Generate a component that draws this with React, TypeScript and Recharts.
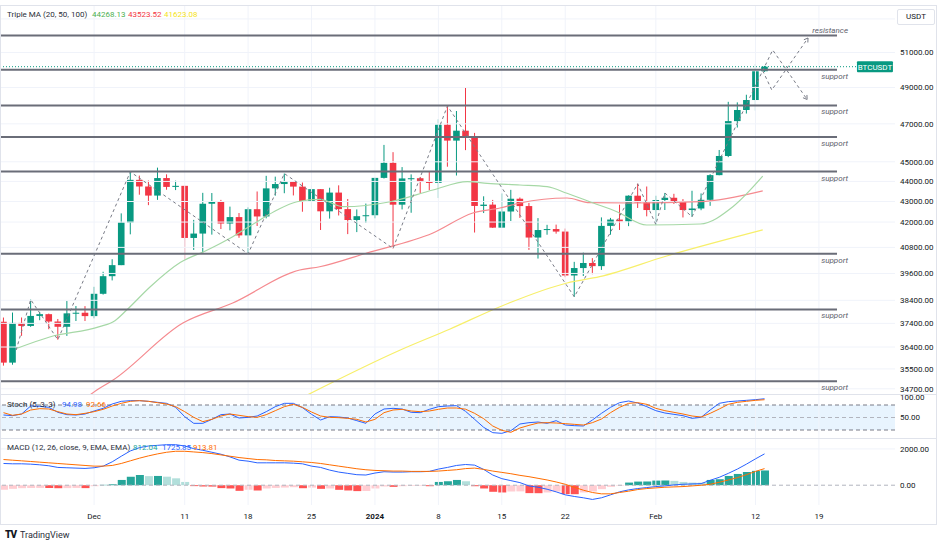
import React from 'react';
import {
  ComposedChart,
  Bar,
  Line,
  XAxis,
  YAxis,
  ReferenceLine,
  ReferenceArea,
  Cell,
} from 'recharts';

// BTCUSDT daily, Nov 21 2023 (day 0) .. Feb 13 2024 (day 84)
const opens = [
  37469, 35756, 37420, 37289, 37720, 37796, 37479, 37254, 37831, 37858,
  37712, 38688, 39476, 39978, 41980, 44080, 43746, 43293, 44170, 43725,
  43779, 41243, 41450, 42890, 43023, 41929, 42240, 41364, 42623, 42270,
  43652, 43869, 43997, 43740, 43016, 43613, 42520, 43442, 42627, 42099,
  42283, 42330, 44179, 44946, 42845, 44151, 44162, 43974, 43929, 46952,
  46106, 46633, 46339, 42782, 42847, 41732, 42511, 43137, 42776, 41262,
  41618, 41665, 41545, 39507, 39845, 40077, 39933, 41816, 42120, 42035,
  43288, 42952, 42582, 43075, 43185, 42992, 42583, 42658, 43084, 44318,
  45301, 47147, 47751, 48299, 49917,
];
const highs = [
  37650, 37866, 37653, 38431, 37892, 37820, 37588, 38368, 38150, 38145,
  38999, 39676, 40250, 42420, 44488, 44295, 44046, 44700, 44358, 44040,
  43783, 42104, 43429, 43420, 43080, 42749, 42437, 42712, 43497, 44283,
  44242, 44398, 43997, 43946, 43800, 43613, 43683, 43804, 43124, 42612,
  42899, 44184, 45879, 45500, 44729, 44357, 44227, 44480, 47248, 47972,
  47695, 48969, 46515, 43257, 43079, 43400, 43578, 43198, 42930, 42191,
  41867, 41877, 41689, 40129, 40555, 40300, 42225, 42200, 42842, 43305,
  43882, 43745, 43285, 43422, 43381, 43119, 43532, 43400, 44367, 45614,
  48200, 48170, 48592, 50334, 50220,
];
const lows = [
  35632, 35670, 36870, 37251, 37535, 37150, 36707, 36867, 37500, 37500,
  37615, 38652, 39285, 39978, 41414, 43335, 42821, 43081, 43584, 43566,
  40222, 40680, 40555, 41400, 41666, 41605, 41250, 40500, 41811, 42180,
  43287, 43410, 43300, 42500, 42700, 41620, 42167, 42318, 41424, 41520,
  41965, 42181, 44148, 40750, 42613, 42450, 43420, 43561, 43175, 44748,
  44300, 45606, 41500, 42436, 41720, 41718, 42050, 42200, 40683, 40280,
  41395, 41446, 39431, 38555, 39484, 39565, 39760, 41395, 41620, 41804,
  42683, 42276, 41884, 42584, 42880, 42222, 42258, 42574, 42788, 44311,
  45242, 46800, 47557, 47711, 49880,
];
const closes = [
  35756, 37420, 37289, 37720, 37796, 37479, 37254, 37831, 37858, 37712,
  38688, 39476, 39978, 41980, 44080, 43746, 43293, 44170, 43725, 43779,
  41243, 41450, 42890, 43023, 41929, 42240, 41364, 42623, 42270, 43652,
  43869, 43997, 43740, 43016, 43613, 42520, 43442, 42627, 42099, 42283,
  42330, 44179, 44946, 42845, 44151, 44162, 43974, 43929, 46952, 46106,
  46633, 46339, 42782, 42847, 41732, 42511, 43137, 42776, 41262, 41618,
  41665, 41545, 39507, 39845, 40077, 39933, 41816, 42120, 42035, 43288,
  42952, 42582, 43075, 43185, 42992, 42583, 42658, 43084, 44318, 45301,
  47147, 47751, 48299, 49917, 50180,
];

// Triple MA as [day, price]
const ma20 = [
  [1.5, 36349], [5.1, 36822], [10.6, 37259], [12.3, 37516], [13.6, 37977],
  [16.2, 39004], [19.5, 40099], [22.5, 40677], [25.3, 41301], [28.3, 42099],
  [30.2, 42584], [32.4, 42990], [34.9, 43109], [37.5, 42745], [42.7, 42990],
  [47.4, 43570], [51.2, 43987], [53.4, 43906], [57, 43821], [60, 43735],
  [62.2, 43406], [65.1, 42927], [67.7, 42501], [71, 41859], [76.9, 41906],
  [80.5, 42745], [83.8, 44268],
];
const ma50 = [
  [9.4, 34420], [10.3, 34653], [12.1, 35052], [19.8, 37417], [25.3, 38282],
  [32.7, 39757], [34.9, 39906], [40.1, 40538], [47.4, 41478], [51.8, 42438],
  [54.8, 42682], [57, 42927], [62.2, 43173], [64.7, 42941], [69.5, 42927],
  [76.9, 42990], [83.8, 43524],
];
const ma100 = [
  [33.5, 34450], [43.8, 36276], [49.3, 37160], [54.8, 38120], [62.2, 39170],
  [65.8, 39453], [73.2, 40399], [83.8, 41623],
];

// zigzag drawing and the two projected paths
const zigzag = [
  [1.4, 36276], [3, 38431], [6, 36707], [14, 44488], [27, 40500], [31, 44398],
  [43, 40750], [49, 47972], [63, 38555], [70, 43882], [72, 41884], [73, 43422],
  [76, 42258], [83.8, 49950],
];
const projUp = [[83.8, 49950], [84.9, 51146], [88.7, 48330]];
const projDown = [[83.8, 49950], [84.8, 48857], [88.8, 51854]];

const resistanceLevel = 52000;
const supportLevels = [50000, 48000, 46300, 44500, 40500, 38000, 35000];
const lastPrice = 50178;

const priceTicks = [51000, 49000, 47000, 45000, 44000, 43000, 42000, 40800, 39600, 38400, 37400, 36400, 35500, 34700];
const timeTicks = [10, 20, 27, 34, 41, 48, 55, 62, 72, 83, 90];
const timeLabels = ['Dec', '11', '18', '25', '2024', '8', '15', '22', 'Feb', '12', '19'];

// Stoch (5, 3, 3)
const stochK = [
  56, 54.4, 58.4, 77.6, 76.8, 74.4, 62.4, 56.8, 56, 58.4,
  65.6, 72, 82.4, 88.8, 90.4, 90.4, 88.8, 86.4, 84, 74.4,
  52, 36, 36, 45.6, 56.8, 58.4, 48.8, 50.4, 53.6, 64,
  76, 84, 84, 73.6, 57.6, 44, 52, 51.2, 48.8, 42.4,
  36, 58.4, 70.4, 72, 70.4, 62.4, 61.6, 69.6, 76, 77.6,
  78.4, 64.8, 45.6, 26.4, 13.6, 12, 18.4, 34.4, 37.6, 39.2,
  36, 42.4, 32, 30.4, 29.6, 44, 60, 74.4, 85.6, 89.6,
  84.8, 76, 66.4, 60.8, 57.6, 54.4, 48, 50.4, 68, 84,
  88, 89.6, 91.2, 92.8, 94.98,
];
const stochD = [
  61.6, 55.2, 58.4, 68, 71.2, 70.4, 64, 58.4, 56.8, 60,
  64, 69.6, 77.6, 84, 88.8, 90.4, 88.8, 85.6, 82.4, 76,
  64, 50.4, 40, 45.6, 53.6, 58.4, 55.2, 52, 50.4, 56.8,
  66.4, 76, 81.6, 74.4, 63.2, 53.6, 50.4, 49.6, 48, 45.6,
  39.2, 45.6, 61.6, 68, 69.6, 65.6, 64, 65.6, 69.6, 72.8,
  72.8, 70, 60, 47.2, 29.6, 19.2, 14.4, 24.8, 31.2, 36.8,
  37.6, 36.8, 35.2, 33.6, 32, 37.6, 46.4, 61.6, 74.4, 84,
  85.6, 81.6, 72, 66.4, 62.4, 58.4, 53.6, 51.2, 60, 70.4,
  81.6, 86.4, 88.8, 91.2, 92.66,
];

// MACD (12, 26, close, 9)
const macdLine = [
  1197, 1179, 1179, 1160, 1124, 1070, 979, 960, 942, 924,
  960, 1051, 1288, 1596, 1887, 2069, 2160, 2196, 2232, 2232,
  2160, 2014, 1923, 1815, 1706, 1560, 1379, 1324, 1233, 1233,
  1233, 1233, 1215, 1179, 1051, 979, 833, 724, 652, 579,
  561, 670, 742, 724, 724, 742, 742, 761, 888, 979,
  1088, 1140, 1106, 870, 561, 361, 252, 143, -39, -112,
  -221, -366, -530, -620, -693, -784, -693, -530, -366, -257,
  -184, -130, -75, -39, 16, 52, 70, 88, 270, 434,
  652, 888, 1160, 1451, 1726,
];
const signalLine = [
  1415, 1378, 1342, 1306, 1269, 1233, 1197, 1160, 1124, 1088,
  1051, 1051, 1088, 1197, 1342, 1488, 1615, 1724, 1815, 1869,
  1869, 1833, 1796, 1742, 1669, 1597, 1524, 1469, 1415, 1397,
  1360, 1342, 1324, 1288, 1251, 1197, 1124, 1051, 979, 906,
  851, 815, 797, 779, 779, 761, 761, 761, 779, 815,
  851, 915, 942, 870, 779, 706, 633, 543, 470, 379,
  288, 179, 52, -112, -275, -402, -475, -475, -402, -330,
  -239, -184, -148, -112, -94, -75, -39, -3, 52, 161,
  288, 416, 579, 761, 914,
];
const histogram = [
  -254, -200, -164, -160, -150, -155, -165, -160, -150, -160,
  -55, 20, 50, 290, 472, 563, 500, 510, 470, 380,
  180, -50, -70, -75, -160, -180, -310, -250, -290, -180,
  -150, -130, -110, -165, -130, -200, -180, -255, -290, -325,
  -320, -180, -70, -90, -55, -35, -30, -55, 180, 218,
  290, 218, -55, -180, -363, -400, -345, -340, -436, -440,
  -400, -345, -490, -495, -400, -345, -218, -90, -30, 145,
  200, 205, 254, 260, 240, 180, 145, 140, 290, 330,
  510, 620, 727, 790, 812,
];

const X_MIN = -0.386;
const X_MAX = 98.4;
const P_MIN = 34494;
const P_MAX = 53851;
const FONT = 'Roboto, "Noto Sans", sans-serif';
const TEXT = '#131722';
const GRID = '#f0f3fa';
const UP = '#089981';
const DOWN = '#f23645';
const DRAW = '#787b86';

const candles = closes.map((c, i) => ({
  day: i,
  range: [lows[i], highs[i]],
  open: opens[i],
  close: c,
}));
const osc = closes.map((_, i) => ({
  day: i,
  k: stochK[i],
  d: stochD[i],
  macd: macdLine[i],
  signal: signalLine[i],
  hist: histogram[i],
}));
const pts = (arr: number[][]) => arr.map(([day, v]) => ({ day, v }));

const histColor = (i: number) => {
  const h = histogram[i];
  const prev = i > 0 ? histogram[i - 1] : h - 1;
  if (h >= 0) return prev < h ? '#26a69a' : '#b2dfdb';
  return prev > h ? '#ff5252' : '#ffcdd2';
};

const Candle = (props: any) => {
  const { x, y, width, height, payload } = props;
  if (!payload || height == null) return <g />;
  const [low, high] = payload.range;
  const lh = Math.log(high);
  const span = lh - Math.log(low) || 1;
  const toY = (p: number) => y + ((lh - Math.log(p)) / span) * height;
  const cx = x + width / 2;
  const color = payload.close >= payload.open ? UP : DOWN;
  const top = toY(Math.max(payload.open, payload.close));
  const bot = toY(Math.min(payload.open, payload.close));
  return (
    <g>
      <line x1={cx} x2={cx} y1={y} y2={y + height} stroke={color} strokeWidth={1} />
      <rect x={cx - 3.3} y={top} width={6.6} height={Math.max(1, bot - top)} fill={color} />
    </g>
  );
};

// small open arrowhead on the last point of a projection path
const arrowDot = (props: any) => {
  const { cx, cy, index, points } = props;
  if (!points || index !== points.length - 1 || index < 1) return <g key={index} />;
  const p = points[index - 1];
  const ang = Math.atan2(cy - p.y, cx - p.x);
  const s = 4.5;
  const a1 = ang + Math.PI * 0.82;
  const a2 = ang - Math.PI * 0.82;
  return (
    <path
      key={index}
      d={`M${cx + Math.cos(a1) * s},${cy + Math.sin(a1) * s} L${cx},${cy} L${cx + Math.cos(a2) * s},${cy + Math.sin(a2) * s}`}
      stroke={DRAW}
      fill="none"
      strokeWidth={1}
    />
  );
};

const levelLabel = (text: string, above: boolean) => (props: any) => {
  const vb = props.viewBox;
  return (
    <text
      x={vb.x + vb.width + 11}
      y={above ? vb.y - 3 : vb.y + 9}
      textAnchor="end"
      fontSize={8}
      fontStyle="italic"
      fill="#5d606b"
      fontFamily={FONT}
    >
      {text}
    </text>
  );
};

const priceTag = (props: any) => {
  const vb = props.viewBox;
  const x = vb.x + vb.width;
  return (
    <g>
      <rect x={x} y={vb.y - 5.5} width={36} height={11} fill={UP} rx={1} />
      <text x={x + 18} y={vb.y + 3} textAnchor="middle" fontSize={8} fill="#fff" fontFamily={FONT}>
        BTCUSDT
      </text>
    </g>
  );
};

const TimeTick = (props: any) => {
  const { x, y, payload } = props;
  const label = timeLabels[timeTicks.indexOf(payload.value)];
  return (
    <text x={x} y={y + 14} textAnchor="middle" fontSize={8} fill={TEXT} fontFamily={FONT} fontWeight={label === '2024' ? 700 : 400}>
      {label}
    </text>
  );
};

const axisTick = { fontSize: 8, fill: TEXT, fontFamily: FONT };

const vGrid = (yAxisId?: string) =>
  timeTicks.map((t) => <ReferenceLine key={'v' + t} x={t} yAxisId={yAxisId} stroke={GRID} strokeWidth={1} />);

const Legend = ({ top, items }: { top: number; items: [string, string, number][] }) => (
  <>
    {items.map(([text, color, left]) => (
      <div
        key={text}
        style={{ position: 'absolute', left, top, fontSize: 8, lineHeight: '10px', color, fontFamily: FONT, whiteSpace: 'nowrap' }}
      >
        {text}
      </div>
    ))}
  </>
);

export default function App() {
  return (
    <div style={{ position: 'absolute', left: 0, top: 0, width: 937, height: 549, background: '#fff', overflow: 'hidden' }}>
      {/* price pane */}
      <div style={{ position: 'absolute', left: 0, top: 0 }}>
        <ComposedChart width={937} height={394} data={candles} margin={{ top: 5, right: 0, bottom: 0, left: 0 }}>
          <XAxis type="number" dataKey="day" domain={[X_MIN, X_MAX]} allowDataOverflow hide />
          <YAxis
            yAxisId="p"
            orientation="right"
            scale="log"
            domain={[P_MIN, P_MAX]}
            allowDataOverflow
            ticks={priceTicks}
            interval={0}
            width={42}
            tickSize={0}
            tickMargin={5}
            axisLine={false}
            tickLine={false}
            tick={axisTick}
            tickFormatter={(v: number) => v.toFixed(2)}
          />
          {[53000, ...priceTicks].map((t) => (
            <ReferenceLine key={'h' + t} yAxisId="p" y={t} stroke={GRID} strokeWidth={1} />
          ))}
          {vGrid('p')}
          <Line yAxisId="p" data={pts(ma100)} dataKey="v" type="monotone" stroke="#f7ef6a" strokeWidth={1.2} dot={false} isAnimationActive={false} />
          <Line yAxisId="p" data={pts(ma50)} dataKey="v" type="monotone" stroke="#f58a8f" strokeWidth={1.2} dot={false} isAnimationActive={false} />
          <Line yAxisId="p" data={pts(ma20)} dataKey="v" type="monotone" stroke="#a6d8a6" strokeWidth={1.2} dot={false} isAnimationActive={false} />
          <Bar yAxisId="p" dataKey="range" barSize={7} shape={Candle} isAnimationActive={false} />
          <ReferenceLine
            yAxisId="p"
            segment={[{ x: X_MIN, y: resistanceLevel }, { x: 92, y: resistanceLevel }]}
            stroke="#6a6d78"
            strokeWidth={2}
            label={levelLabel('resistance', true)}
          />
          {supportLevels.map((s) => (
            <ReferenceLine
              key={'s' + s}
              yAxisId="p"
              segment={[{ x: X_MIN, y: s }, { x: 92, y: s }]}
              stroke="#6a6d78"
              strokeWidth={2}
              label={levelLabel('support', false)}
            />
          ))}
          <Line yAxisId="p" data={pts(zigzag)} dataKey="v" stroke={DRAW} strokeWidth={1} strokeDasharray="3 3" dot={false} isAnimationActive={false} />
          <Line yAxisId="p" data={pts(projUp)} dataKey="v" stroke={DRAW} strokeWidth={1} strokeDasharray="3 3" dot={arrowDot} isAnimationActive={false} />
          <Line yAxisId="p" data={pts(projDown)} dataKey="v" stroke={DRAW} strokeWidth={1} strokeDasharray="3 3" dot={arrowDot} isAnimationActive={false} />
          <ReferenceLine
            yAxisId="p"
            segment={[{ x: X_MIN, y: lastPrice }, { x: 94.2, y: lastPrice }]}
            stroke={UP}
            strokeWidth={1}
            strokeDasharray="1 2"
            label={priceTag}
          />
        </ComposedChart>
      </div>

      {/* stochastic pane */}
      <div style={{ position: 'absolute', left: 0, top: 394 }}>
        <ComposedChart width={937} height={44} data={osc} margin={{ top: 0, right: 0, bottom: 0, left: 0 }}>
          <XAxis type="number" dataKey="day" domain={[X_MIN, X_MAX]} allowDataOverflow hide />
          <YAxis
            yAxisId="s"
            orientation="right"
            domain={[0.8, 106.4]}
            allowDataOverflow
            ticks={[100, 50]}
            interval={0}
            width={42}
            tickSize={0}
            tickMargin={5}
            axisLine={false}
            tickLine={false}
            tick={axisTick}
            tickFormatter={(v: number) => v.toFixed(2)}
          />
          {vGrid('s')}
          <ReferenceArea yAxisId="s" y1={20} y2={80} fill="#2196f3" fillOpacity={0.1} stroke="none" />
          <ReferenceLine yAxisId="s" y={80} stroke={DRAW} strokeDasharray="4 3" />
          <ReferenceLine yAxisId="s" y={50} stroke="#b2b5be" strokeDasharray="4 3" />
          <ReferenceLine yAxisId="s" y={20} stroke={DRAW} strokeDasharray="4 3" />
          <Line yAxisId="s" dataKey="k" stroke="#2962ff" strokeWidth={1} dot={false} isAnimationActive={false} />
          <Line yAxisId="s" dataKey="d" stroke="#ff6d00" strokeWidth={1} dot={false} isAnimationActive={false} />
        </ComposedChart>
      </div>

      {/* MACD pane + time axis */}
      <div style={{ position: 'absolute', left: 0, top: 438 }}>
        <ComposedChart width={937} height={86} data={osc} margin={{ top: 0, right: 0, bottom: 0, left: 0 }}>
          <XAxis
            type="number"
            dataKey="day"
            domain={[X_MIN, X_MAX]}
            allowDataOverflow
            ticks={timeTicks}
            interval={0}
            height={19}
            tickSize={0}
            tickMargin={0}
            axisLine={false}
            tickLine={false}
            tick={<TimeTick />}
          />
          <YAxis
            yAxisId="m"
            orientation="right"
            domain={[-1090, 2600]}
            allowDataOverflow
            ticks={[2000, 0]}
            interval={0}
            width={42}
            tickSize={0}
            tickMargin={5}
            axisLine={false}
            tickLine={false}
            tick={axisTick}
            tickFormatter={(v: number) => v.toFixed(2)}
          />
          {vGrid('m')}
          <ReferenceLine yAxisId="m" y={2000} stroke={GRID} />
          <ReferenceLine yAxisId="m" y={0} stroke="#b2b5be" strokeDasharray="4 3" />
          <Bar yAxisId="m" dataKey="hist" barSize={8} isAnimationActive={false}>
            {osc.map((_, i) => (
              <Cell key={i} fill={histColor(i)} />
            ))}
          </Bar>
          <Line yAxisId="m" dataKey="macd" stroke="#2962ff" strokeWidth={1} dot={false} isAnimationActive={false} />
          <Line yAxisId="m" dataKey="signal" stroke="#ff6d00" strokeWidth={1} dot={false} isAnimationActive={false} />
        </ComposedChart>
      </div>

      {/* pane frame */}
      <div style={{ position: 'absolute', left: 0, top: 5, width: 935, height: 518, border: '1px solid #e0e3eb', pointerEvents: 'none' }} />
      <div style={{ position: 'absolute', left: 0, top: 394, width: 937, height: 1, background: '#e0e3eb' }} />
      <div style={{ position: 'absolute', left: 0, top: 438, width: 937, height: 1, background: '#e0e3eb' }} />

      <Legend
        top={10}
        items={[
          ['Triple MA (20, 50, 100)', '#2a2e39', 7],
          ['44268.13', '#4caf50', 92],
          ['43523.52', '#f23645', 128],
          ['41623.08', '#f5e320', 164],
        ]}
      />
      <Legend
        top={400}
        items={[
          ['Stoch (5, 3, 3)', '#2a2e39', 7],
          ['94.98', '#2962ff', 62],
          ['92.66', '#ff6d00', 86],
        ]}
      />
      <Legend
        top={443}
        items={[
          ['MACD (12, 26, close, 9, EMA, EMA)', '#2a2e39', 7],
          ['812.04', '#26a69a', 133],
          ['1725.85', '#2962ff', 162],
          ['913.81', '#ff6d00', 193],
        ]}
      />

      <div
        style={{
          position: 'absolute', left: 897, top: 9, width: 36, height: 14, border: '1px solid #e0e3eb', borderRadius: 2,
          background: '#fff', fontSize: 8, lineHeight: '14px', textAlign: 'center', color: TEXT, fontFamily: FONT,
        }}
      >
        USDT
      </div>

      <div style={{ position: 'absolute', left: 5, top: 529, display: 'flex', alignItems: 'center', fontFamily: FONT }}>
        <span style={{ fontSize: 10, fontWeight: 900, color: TEXT, letterSpacing: -1, marginRight: 4 }}>TV</span>
        <span style={{ fontSize: 9, color: '#2a2e39' }}>TradingView</span>
      </div>
    </div>
  );
}
